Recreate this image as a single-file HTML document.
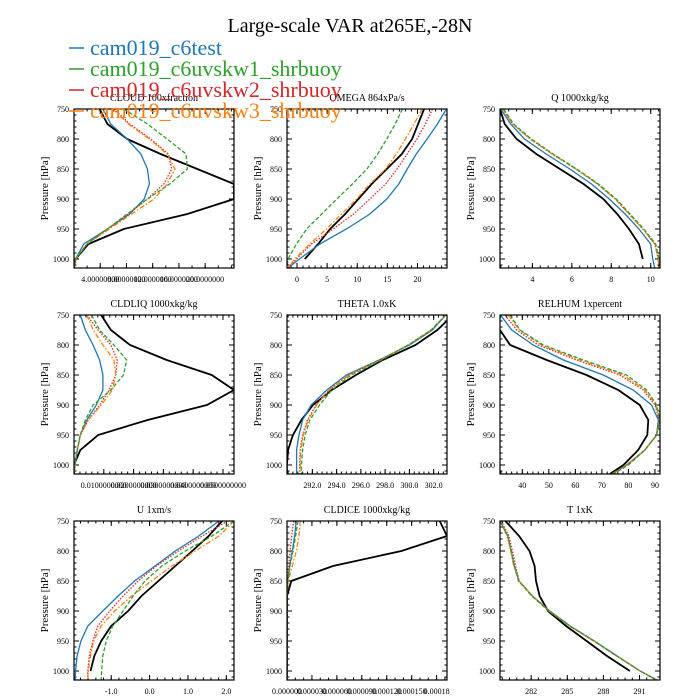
<!DOCTYPE html>
<html><head><meta charset="utf-8"><style>
body{margin:0;background:#fff;}
svg{display:block;font-family:"Liberation Serif",serif;}
</style></head><body>
<svg id="chart" width="700" height="700" viewBox="0 0 700 700" xmlns="http://www.w3.org/2000/svg">
<rect width="700" height="700" fill="#fff"/>
<g id="panels"></g>
<text x="350" y="32" font-size="20" text-anchor="middle">Large-scale VAR at265E,-28N</text>
<g id="legend"></g>
</svg>
<script>
const levels=[750,775,800,825,850,875,900,925,950,975,1000,1015];
const seriesNames=["cam019_c6test","cam019_c6uvskw1_shrbuoy","cam019_c6uvskw2_shrbuoy","cam019_c6uvskw3_shrbuoy"];
const seriesColors=["#1f77b4","#2ca02c","#d62728","#ff7f0e"];

const cloudObs=[3.9,5.1,8.1,13.2,18.8,24.4,24.4,17.3,7.6,2.2,0.24,0];
const cloudBlue=[4.4,5.6,8.1,10.2,11.2,11.5,10.7,8.5,5.1,1.5,0.24,0];
const cloudGreen=[7.6,11.2,14.2,17.1,17.3,14.6,11.2,8.1,5.1,2.0,0.24,0];
const cloudRed=[6.1,8.5,11.7,14.4,14.9,13.7,11.2,8.3,5.1,2.0,0.24,0];
const cloudOrange=[5.9,8.3,11.5,14.2,15.4,14.2,12.2,8.8,5.4,2.0,0.24,0];

const omegaObs=[21.1,20.1,19.1,17.4,14.9,12.4,10.2,8.0,5.5,3.5,1.3,null];
const omegaBlue=[24.8,23.3,21.6,19.8,18.3,16.9,14.9,12.1,8.2,3.8,0.4,-1.5];
const omegaGreen=[17.5,16.3,14.9,13.4,11.6,9.2,6.6,4.1,1.6,-0.1,-1.5,-1.66];
const omegaRed=[22.5,21.3,19.9,18.3,16.6,14.7,12.1,9.4,6.0,2.4,-0.1,-1.5];
const omegaOrange=[20.8,19.4,18.0,16.5,14.7,12.1,9.9,7.4,4.9,2.1,-0.4,-1.5];

const qObs=[2.36,2.6,3.2,4.2,5.4,6.6,7.6,8.3,8.9,9.4,9.6,null];
const qBlue=[2.4,2.9,3.6,4.7,5.9,7.0,7.9,8.7,9.4,10.0,10.1,10.2];
const qGreen=[2.55,3.05,3.95,5.05,6.25,7.35,8.25,8.95,9.65,10.25,10.42,10.45];
const qRed=[2.5,3.0,3.9,5.0,6.2,7.3,8.2,8.9,9.6,10.2,10.38,10.4];
const qOrange=[2.5,3.0,3.9,5.0,6.2,7.3,8.2,8.9,9.6,10.2,10.4,10.42];

const liqObs=[0.0091,0.0124,0.0188,0.0311,0.0462,0.0537,0.0446,0.0247,0.0081,0.0021,0,0];
const liqBlue=[0.0021,0.0038,0.0064,0.0086,0.0097,0.0097,0.0075,0.0043,0.0021,0.0011,0.0003,0];
const liqGreen=[0.0059,0.0086,0.0134,0.0177,0.0166,0.0124,0.0064,0.0038,0.0021,0.0011,0.0003,0];
const liqRed=[0.0043,0.0081,0.0124,0.0145,0.0140,0.0118,0.0086,0.0048,0.0021,0.0011,0.0003,0];
const liqOrange=[0.0043,0.0064,0.0097,0.0134,0.0140,0.0129,0.0091,0.0048,0.0021,0.0011,0.0003,0];

const thetaObs=[303.6,302.3,300.5,297.8,295.6,293.6,292.05,291.1,290.4,290.0,289.9,289.9];
const thetaBlue=[303.0,301.9,300.0,297.5,294.8,293.2,291.9,291.2,290.9,290.7,290.7,290.7];
const thetaGreen=[303.0,301.8,299.9,297.7,295.2,293.6,292.6,291.8,291.4,291.2,291.1,291.1];
const thetaRed=[303.0,301.8,299.9,297.6,295.0,293.4,292.3,291.6,291.2,291.0,290.95,290.95];
const thetaOrange=[303.0,301.8,299.9,297.6,295.0,293.4,292.35,291.65,291.25,291.05,291.0,291.0];

const rhObs=[29,31.6,35.4,49.2,64.2,76.2,84.3,87.5,87.1,83.7,78.1,73.0];
const rhBlue=[31.8,36,44.1,55.5,70.5,81.8,88.7,91.3,90.6,86.2,79.3,73.7];
const rhGreen=[35.4,39.1,47.9,63,79.3,86.9,90.6,91.9,90.6,86.2,80,74.3];
const rhRed=[33.5,37.9,46,60.5,76.8,85.6,90,91.6,90.6,86.2,79.3,73.7];
const rhOrange=[34.7,38.9,47.3,61.7,78,86.2,90.4,91.9,90.6,86.2,79.6,74.0];

const uObs=[1.89,1.54,1.11,0.67,0.23,-0.21,-0.56,-1.0,-1.26,-1.44,-1.54,null];
const uBlue=[1.81,1.28,0.67,0.14,-0.39,-0.82,-1.22,-1.61,-1.79,-1.89,-1.93,-1.94];
const uGreen=[2.2,1.63,0.93,0.32,-0.12,-0.43,-0.69,-0.96,-1.13,-1.22,-1.25,-1.26];
const uRed=[2.03,1.37,0.75,0.18,-0.30,-0.69,-1.04,-1.35,-1.48,-1.57,-1.61,-1.61];
const uOrange=[2.2,1.81,1.19,0.58,0.05,-0.47,-0.91,-1.26,-1.46,-1.54,-1.60,-1.61];

const iceObs=[0.0001837,0.0001925,0.0001376,0.0000553,0.0000052,0,0,0,0,0,0,0];
const iceBlue=[0.0000112,0.0000092,0.0000064,0.0000032,0.0000008,0,0,0,0,0,0,0];
const iceGreen=[0.0000132,0.0000104,0.0000072,0.0000036,0.0000008,0,0,0,0,0,0,0];
const iceRed=[0.000008,0.0000056,0.0000036,0.000002,0.0000004,0,0,0,0,0,0,0];
const iceOrange=[0.000016,0.0000144,0.0000112,0.0000064,0.0000016,0,0,0,0,0,0,0];

const tObs=[279.86,281.0,281.86,282.28,282.4,282.7,283.4,284.9,286.6,288.3,290.2,null];
const tBlue=[279.41,280.05,280.33,280.6,281.0,282.1,283.55,285.25,287.25,289.15,291.05,292.4];
const tGreen=[279.41,280.05,280.33,280.6,280.95,282.05,283.45,285.2,287.2,289.1,291.05,292.45];
const tRed=[279.5,280.15,280.45,280.7,281.0,282.1,283.5,285.2,287.2,289.1,291.05,292.45];
const tOrange=[279.41,280.0,280.3,280.55,281.0,282.1,283.5,285.2,287.2,289.1,291.05,292.45];

const cloudTicks=[4,8,12,16,20];
const cloudTickLabels=["4.00000000","8.00000000","12.0000000","16.0000000","20.0000000"];
const omegaTicks=[0,5,10,15,20];
const omegaTickLabels=["0","5","10","15","20"];
const qTicks=[4,6,8,10];
const qTickLabels=["4","6","8","10"];
const liqTicks=[0.01,0.02,0.03,0.04,0.05];
const liqTickLabels=["0.0100000000","0.0200000000","0.0300000000","0.0400000000","0.0500000000"];
const thetaTicks=[292,294,296,298,300,302];
const thetaTickLabels=["292.0","294.0","296.0","298.0","300.0","302.0"];
const rhTicks=[40,50,60,70,80,90];
const rhTickLabels=["40","50","60","70","80","90"];
const uTicks=[-1,0,1,2];
const uTickLabels=["-1.0","0.0","1.0","2.0"];
const iceTicks=[0,0.00003,0.00006,0.00009,0.00012,0.00015,0.00018];
const iceTickLabels=["0.000000","0.000030","0.000060","0.000090","0.000120","0.000150","0.00018"];
const tTicks=[282,285,288,291];
const tTickLabels=["282","285","288","291"];
const pTicks=[750,800,850,900,950,1000];

const panels=[
 {name:"cloud",title:"CLOUD  100xfraction",col:0,row:0,xmin:0,xmax:24.4,ticks:cloudTicks,labels:cloudTickLabels,obs:cloudObs,m:[cloudBlue,cloudGreen,cloudRed,cloudOrange],minor:2},
 {name:"omega",title:"OMEGA  864xPa/s",col:1,row:0,xmin:-1.66,xmax:24.9,ticks:omegaTicks,labels:omegaTickLabels,obs:omegaObs,m:[omegaBlue,omegaGreen,omegaRed,omegaOrange],minor:1},
 {name:"q",title:"Q  1000xkg/kg",col:2,row:0,xmin:2.36,xmax:10.47,ticks:qTicks,labels:qTickLabels,obs:qObs,m:[qBlue,qGreen,qRed,qOrange],minor:0.4},
 {name:"cldliq",title:"CLDLIQ  1000xkg/kg",col:0,row:1,xmin:0,xmax:0.0537,ticks:liqTicks,labels:liqTickLabels,obs:liqObs,m:[liqBlue,liqGreen,liqRed,liqOrange],minor:0.002},
 {name:"theta",title:"THETA  1.0xK",col:1,row:1,xmin:289.91,xmax:303.1,ticks:thetaTicks,labels:thetaTickLabels,obs:thetaObs,m:[thetaBlue,thetaGreen,thetaRed,thetaOrange],minor:0.4},
 {name:"relhum",title:"RELHUM  1xpercent",col:2,row:1,xmin:31.6,xmax:91.9,ticks:rhTicks,labels:rhTickLabels,obs:rhObs,m:[rhBlue,rhGreen,rhRed,rhOrange],minor:2},
 {name:"u",title:"U  1xm/s",col:0,row:2,xmin:-1.97,xmax:2.2,ticks:uTicks,labels:uTickLabels,obs:uObs,m:[uBlue,uGreen,uRed,uOrange],minor:0.2},
 {name:"cldice",title:"CLDICE  1000xkg/kg",col:1,row:2,xmin:0,xmax:0.0001925,ticks:iceTicks,labels:iceTickLabels,obs:iceObs,m:[iceBlue,iceGreen,iceRed,iceOrange],minor:0.00001},
 {name:"t",title:"T  1xK",col:2,row:2,xmin:279.41,xmax:292.7,ticks:tTicks,labels:tTickLabels,obs:tObs,m:[tBlue,tGreen,tRed,tOrange],minor:0.6}
];
const colX=[74,287,500], rowY=[109,315,521], W=160, H=159;
const dashes=["", "4,2", "1.5,1.5", "5,2,1.5,2"];
const NS="http://www.w3.org/2000/svg";
function mk(tag,attrs,parent){const e=document.createElementNS(NS,tag);for(const k in attrs)e.setAttribute(k,attrs[k]);parent.appendChild(e);return e;}
const root=document.getElementById("panels");
panels.forEach((p,pi)=>{
 const x0=colX[p.col], y0=rowY[p.row];
 const xs=v=>x0+(v-p.xmin)/(p.xmax-p.xmin)*W;
 const ys=v=>y0+(v-750)/265*H;
 const g=mk("g",{},root);
 
 
 const cp=mk("clipPath",{id:"cp"+pi},g);
 mk("rect",{x:x0,y:y0,width:W,height:H},cp);
 const t=mk("text",{x:x0+W/2,y:y0-8,"font-size":"10","text-anchor":"middle"},g);
 t.textContent=p.title;
 
 
 const yl=mk("text",{x:0,y:0,"font-size":"11","text-anchor":"middle",transform:`translate(${x0-26},${y0+H/2}) rotate(-90)`},g);
 yl.textContent="Pressure [hPa]";
 
 
 const ax=mk("g",{stroke:"#000","stroke-width":"1"},g);
 
 
 for(let pr=750;pr<=1015;pr+=10){const y=ys(pr);const L=(pr%50===0)?5:2.5;
  mk("line",{x1:x0,x2:x0+L,y1:y,y2:y},ax);mk("line",{x1:x0+W,x2:x0+W-L,y1:y,y2:y},ax);}
 pTicks.forEach(pr=>{const lt=mk("text",{x:x0-5,y:ys(pr)+3,"font-size":"8","text-anchor":"end",stroke:"none"},g);lt.textContent=pr;
  
  });
 const start=Math.ceil(p.xmin/p.minor);
 for(let k=start;k*p.minor<=p.xmax;k++){const x=xs(k*p.minor);
  mk("line",{x1:x,x2:x,y1:y0,y2:y0+2.5},ax);mk("line",{x1:x,x2:x,y1:y0+H,y2:y0+H-2.5},ax);}
 p.ticks.forEach((v,i)=>{const x=xs(v);
  mk("line",{x1:x,x2:x,y1:y0,y2:y0+5},ax);mk("line",{x1:x,x2:x,y1:y0+H,y2:y0+H-5},ax);
  const lt=mk("text",{x:x,y:y0+H+14,"font-size":"8","text-anchor":"middle"},g);lt.textContent=p.labels[i];
  
  });
 const lines=mk("g",{"clip-path":`url(#cp${pi})`,fill:"none"},g);
 function path(arr){let d="",pen=false;arr.forEach((v,i)=>{if(v===null){pen=false;return;}d+=(pen?"L":"M")+xs(v).toFixed(1)+","+ys(levels[i]).toFixed(1);pen=true;});return d;}
 const ob=mk("path",{d:path(p.obs),stroke:"#000","stroke-width":"1.8"},lines);
 
 
 [0,2,3,1].forEach(si=>{const e=mk("path",{d:path(p.m[si]),stroke:seriesColors[si],"stroke-width":"1.3","stroke-dasharray":dashes[si]},lines);
  
  });
 const fr=mk("rect",{x:x0,y:y0,width:W,height:H,fill:"none",stroke:"#000","stroke-width":"1.2"},g);
 
 
});
const lg=document.getElementById("legend");
seriesNames.forEach((n,i)=>{const y=55+i*21;
 const ln=mk("line",{x1:69,x2:84,y1:y-7,y2:y-7,stroke:seriesColors[i],"stroke-width":"1.5"},lg);
 
 
 const t=mk("text",{x:90,y:y,"font-size":"22",fill:seriesColors[i]},lg);t.textContent=n;
 
 });
</script>
</body></html>
